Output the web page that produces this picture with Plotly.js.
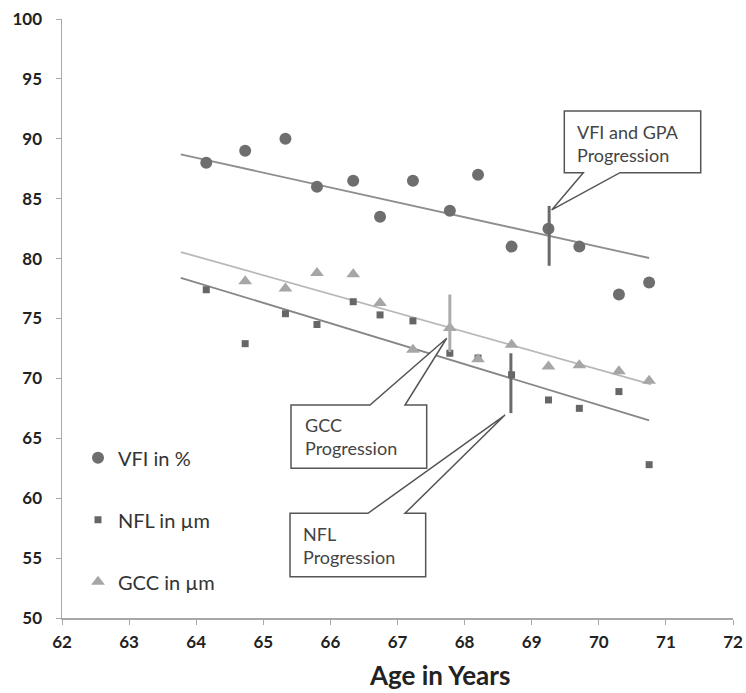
<!DOCTYPE html>
<html>
<head>
<meta charset="utf-8">
<script src="https://cdn.plot.ly/plotly-3.0.1.min.js"></script>
<style>html,body{margin:0;padding:0;background:#fff;}#chart{width:746px;height:693px;}</style>
</head>
<body>
<div id="chart"></div>
<script>
// ---- data ----
const vfiAge = [64.15, 64.73, 65.33, 65.8, 66.34, 66.74, 67.23, 67.78, 68.2, 68.7, 69.25, 69.71, 70.3, 70.75];
const vfiVal = [88, 89, 90, 86, 86.5, 83.5, 86.5, 84, 87, 81, 82.5, 81, 77, 78];

const nflAge = [64.15, 64.73, 65.33, 65.8, 66.34, 66.74, 67.23, 67.78, 68.2, 68.7, 69.25, 69.71, 70.3, 70.75];
const nflVal = [77.4, 72.9, 75.4, 74.5, 76.4, 75.3, 74.8, 72.1, 71.7, 70.3, 68.2, 67.5, 68.9, 62.8];

const gccAge = [64.73, 65.33, 65.8, 66.34, 66.74, 67.23, 67.78, 68.2, 68.7, 69.25, 69.71, 70.3, 70.75];
const gccVal = [78.1, 77.5, 78.8, 78.7, 76.3, 72.4, 74.2, 71.6, 72.8, 71.0, 71.1, 70.6, 69.8];

// linear trend lines (end points)
const vfiTrendX = [63.77, 70.75];
const vfiTrendY = [88.7, 80.05];
const gccTrendX = [63.77, 70.78];
const gccTrendY = [80.55, 69.5];
const nflTrendX = [63.77, 70.75];
const nflTrendY = [78.4, 66.5];

// progression markers (vertical bars)
const vfiProgX = [69.26, 69.26];
const vfiProgY = [84.4, 79.4];
const gccProgX = [67.78, 67.78];
const gccProgY = [77.0, 72.2];
const nflProgX = [68.69, 68.69];
const nflProgY = [72.1, 67.1];

const xTicks = [62, 63, 64, 65, 66, 67, 68, 69, 70, 71, 72];
const yTicks = [50, 55, 60, 65, 70, 75, 80, 85, 90, 95, 100];

const legendNames = ['VFI in %', 'NFL in \u00b5m', 'GCC in \u00b5m'];
const calloutTexts = ['VFI and GPA<br>Progression', 'GCC<br>Progression', 'NFL<br>Progression'];
const xTitle = 'Age in Years';

const FONT = 'Lato, "Open Sans", sans-serif';

const traces = [
  {x: vfiTrendX, y: vfiTrendY, mode: 'lines', line: {color: '#8e8e8e', width: 1.8}, showlegend: false, hoverinfo: 'skip'},
  {x: gccTrendX, y: gccTrendY, mode: 'lines', line: {color: '#b8b8b8', width: 1.8}, showlegend: false, hoverinfo: 'skip'},
  {x: nflTrendX, y: nflTrendY, mode: 'lines', line: {color: '#868686', width: 1.8}, showlegend: false, hoverinfo: 'skip'},
  {x: vfiAge, y: vfiVal, mode: 'markers', name: legendNames[0], legendgroup: 'a',
   marker: {symbol: 'circle', size: 12, color: '#6e6e6e'}},
  {x: nflAge, y: nflVal, mode: 'markers', name: legendNames[1], legendgroup: 'b',
   marker: {symbol: 'square', size: 7, color: '#666666'}},
  {x: gccAge, y: gccVal, mode: 'markers', name: legendNames[2], legendgroup: 'c',
   marker: {symbol: 'triangle-up', size: 12, color: '#a6a6a6'}},
  {x: vfiProgX, y: vfiProgY, mode: 'lines', line: {color: '#6a6a6a', width: 3}, showlegend: false, hoverinfo: 'skip'},
  {x: gccProgX, y: gccProgY, mode: 'lines', line: {color: '#ababab', width: 3}, showlegend: false, hoverinfo: 'skip'},
  {x: nflProgX, y: nflProgY, mode: 'lines', line: {color: '#6a6a6a', width: 3}, showlegend: false, hoverinfo: 'skip'}
];

const calloutStyle = {type: 'path', xref: 'x', yref: 'y', line: {color: '#555', width: 1.5}, fillcolor: 'rgba(255,255,255,1)', layer: 'above'};
const shapes = [
  Object.assign({}, calloutStyle, {path: 'M 69.486 92.32 L 71.519 92.32 L 71.519 87.17 L 70.316 87.17 L 69.298 84.06 L 69.769 87.17 L 69.486 87.17 Z'}),
  Object.assign({}, calloutStyle, {path: 'M 65.413 67.78 L 66.590 67.78 L 67.733 73.35 L 67.112 67.78 L 67.435 67.78 L 67.435 62.50 L 65.413 62.50 Z'}),
  Object.assign({}, calloutStyle, {path: 'M 65.398 58.74 L 66.560 58.74 L 68.602 66.94 L 67.112 58.74 L 67.420 58.74 L 67.420 53.45 L 65.398 53.45 Z'})
];

const annFont = {family: FONT, size: 18, color: '#444'};
const annotations = [
  {x: 69.64, y: 89.57, xref: 'x', yref: 'y', text: calloutTexts[0], showarrow: false, xanchor: 'left', yanchor: 'middle', align: 'left', font: annFont},
  {x: 65.59, y: 65.11, xref: 'x', yref: 'y', text: calloutTexts[1], showarrow: false, xanchor: 'left', yanchor: 'middle', align: 'left', font: annFont},
  {x: 65.56, y: 56.03, xref: 'x', yref: 'y', text: calloutTexts[2], showarrow: false, xanchor: 'left', yanchor: 'middle', align: 'left', font: annFont},
  {x: (440 - 62) / 671, y: (618 - 675) / 599, xref: 'paper', yref: 'paper', text: xTitle, showarrow: false,
   xanchor: 'center', yanchor: 'middle', font: {family: FONT, size: 26, color: '#222', weight: 'bold'}}
];

const layout = {
  width: 746, height: 693,
  margin: {l: 62, r: 13, t: 19, b: 75},
  paper_bgcolor: '#fff', plot_bgcolor: '#fff',
  font: {family: FONT, color: '#333'},
  xaxis: {
    range: [62, 72], tickvals: xTicks, ticktext: xTicks.map(String),
    showgrid: false, zeroline: false, showline: true, linecolor: '#a8a8a8', linewidth: 1.5,
    ticks: 'outside', ticklen: 5, tickcolor: '#a8a8a8',
    tickfont: {family: FONT, size: 17, color: '#222', weight: 'bold'}, ticklabelstandoff: 3
  },
  yaxis: {
    range: [50, 100], tickvals: yTicks, ticktext: yTicks.map(String),
    showgrid: false, zeroline: false, showline: true, linecolor: '#a8a8a8', linewidth: 1.5,
    ticks: 'outside', ticklen: 5, tickcolor: '#a8a8a8',
    tickfont: {family: FONT, size: 17, color: '#222', weight: 'bold'}, ticklabelstandoff: 10
  },
  showlegend: true,
  legend: {
    x: (78 - 62) / 671, xref: 'paper', y: 0.30, yanchor: 'top', xanchor: 'left',
    font: {family: FONT, size: 20, color: '#333'},
    tracegroupgap: 33, itemwidth: 30, bgcolor: 'rgba(0,0,0,0)'
  },
  shapes: shapes,
  annotations: annotations
};

Plotly.newPlot('chart', traces, layout, {staticPlot: true, displayModeBar: false});
</script>
</body>
</html>
